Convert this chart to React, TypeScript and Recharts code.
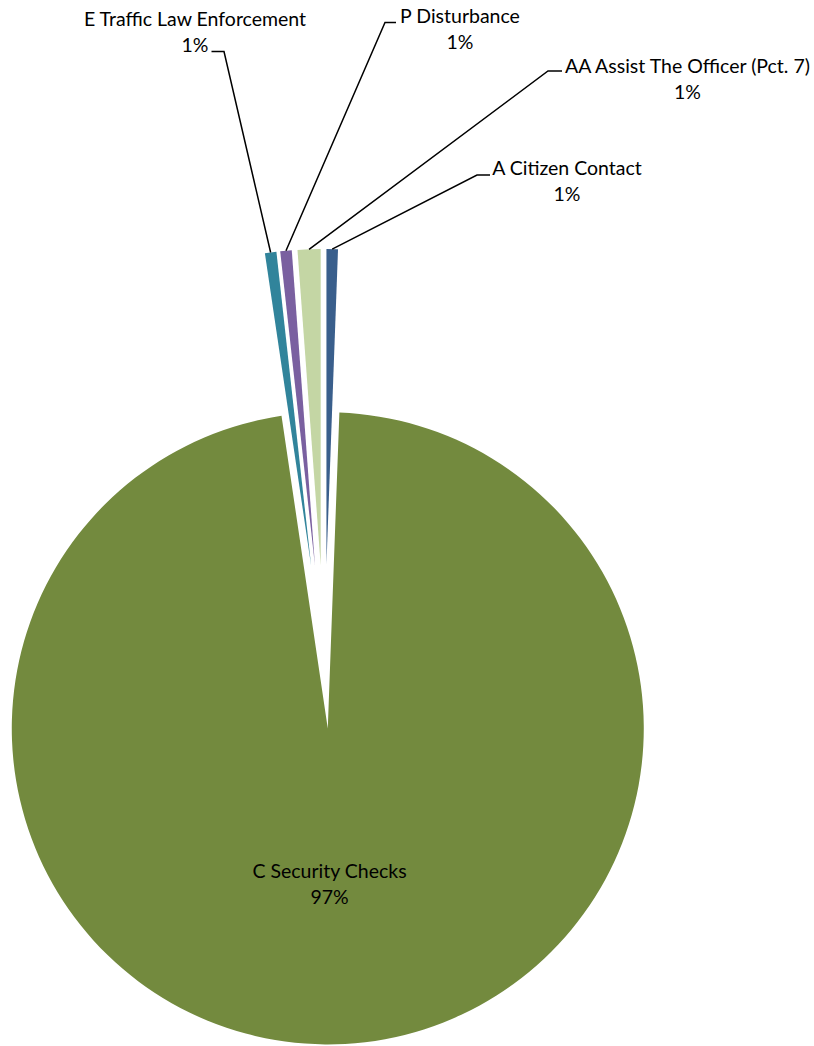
import React from 'react';
import { PieChart, Pie, Cell } from 'recharts';

// calls by type (counts), in the sheet's order
const CATEGORIES = [
  'A Citizen Contact',
  'C Security Checks',
  'E Traffic Law Enforcement',
  'P Disturbance',
  'AA Assist The Officer (Pct. 7)',
];
const CALLS = [1, 166, 1, 1, 2];

const COLORS = ['#3A5F8C', '#738A3E', '#31849B', '#7A60A0', '#C4D6A4'];

// point explosion in px, per slice
const EXPLODE = [104, 59.5, 104, 104, 104];

// where each data label sits: text centre + baseline of first line, leader elbow and end
const LABELS = [
  { x: 567, y: 175, elbow: [477, 175], end: [490, 175] },
  { x: 329.5, y: 878, elbow: null, end: null },
  { x: 195, y: 26, elbow: [224, 51.5], end: [211.5, 51.5] },
  { x: 460, y: 22.5, elbow: [385, 22.5], end: [396, 22.5] },
  { x: 687.5, y: 72.5, elbow: [548, 71], end: [562, 71] },
];

const W = 814;
const H = 1046;
const BASE_CX = 324.5;
const BASE_CY = 669;
const RADIUS = 316;
const RAD = Math.PI / 180;
const FONT = 'Lato, "Open Sans", sans-serif';
const FONT_SIZE = 19.5;

const data = CATEGORIES.map((name, i) => ({ name, value: CALLS[i] }));
const total = CALLS.reduce((a, b) => a + b, 0);

// centre of each exploded slice, pushed out along its mid angle
const centres = CALLS.map((v, i) => {
  const before = CALLS.slice(0, i).reduce((a, b) => a + b, 0);
  const mid = 90 - (360 * (before + v / 2)) / total;
  return {
    cx: BASE_CX + EXPLODE[i] * Math.cos(mid * RAD),
    cy: BASE_CY - EXPLODE[i] * Math.sin(mid * RAD),
  };
});

const makeLabel = (own: number) => (props: any) => {
  const { cx, cy, midAngle, outerRadius, index, percent, name } = props;
  if (index !== own) return <g />;
  const lab = LABELS[index];
  const pct = `${Math.round(percent * 100)}%`;
  const tipX = cx + outerRadius * Math.cos(-midAngle * RAD);
  const tipY = cy + outerRadius * Math.sin(-midAngle * RAD);
  return (
    <g>
      {lab.elbow && (
        <polyline
          points={`${tipX},${tipY} ${lab.elbow[0]},${lab.elbow[1]} ${lab.end![0]},${lab.end![1]}`}
          fill="none"
          stroke="#000"
          strokeWidth={1.5}
        />
      )}
      <text x={lab.x} y={lab.y} textAnchor="middle" fill="#000" fontSize={FONT_SIZE} fontFamily={FONT}>
        {name}
      </text>
      <text x={lab.x} y={lab.y + 26} textAnchor="middle" fill="#000" fontSize={FONT_SIZE} fontFamily={FONT}>
        {pct}
      </text>
    </g>
  );
};

export default function App() {
  return (
    <div style={{ position: 'absolute', left: 0, top: 0, background: '#fff' }}>
      <PieChart width={W} height={H} margin={{ top: 0, right: 0, bottom: 0, left: 0 }}>
        {CATEGORIES.map((cat, i) => (
          <Pie
            key={cat}
            data={data}
            dataKey="value"
            nameKey="name"
            cx={centres[i].cx}
            cy={centres[i].cy}
            outerRadius={RADIUS}
            startAngle={90}
            endAngle={-270}
            stroke="none"
            labelLine={false}
            label={makeLabel(i)}
            isAnimationActive={false}
          >
            {data.map((d, j) => (
              <Cell key={d.name} fill={j === i ? COLORS[j] : 'transparent'} />
            ))}
          </Pie>
        ))}
      </PieChart>
    </div>
  );
}
